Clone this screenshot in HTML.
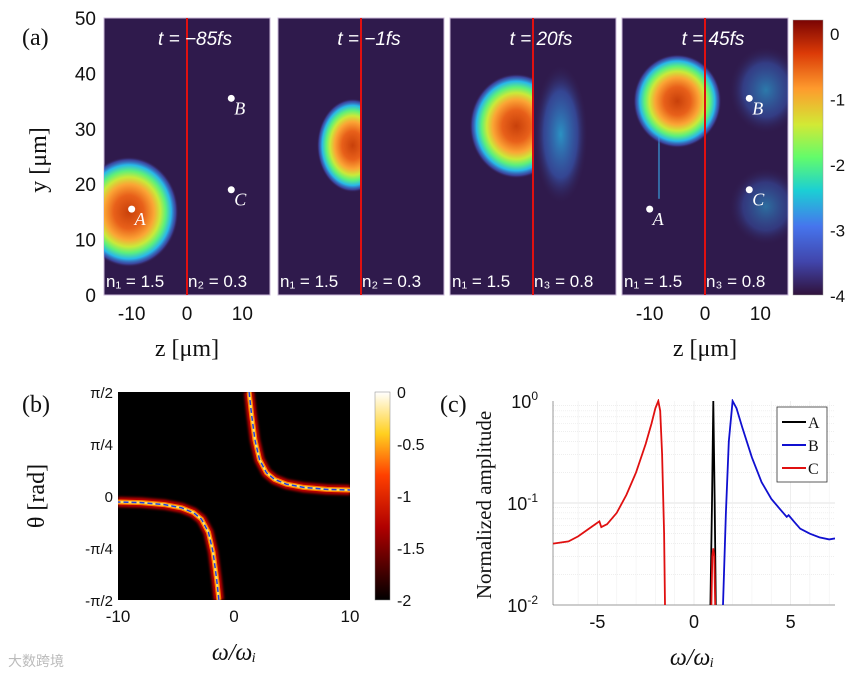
<!DOCTYPE html>
<html><head><meta charset="utf-8">
<style>
html,body{margin:0;padding:0;background:#fff;}
svg{display:block;}
.t{font-family:"Liberation Sans",sans-serif;fill:#111;}
.s{font-family:"Liberation Serif",serif;fill:#111;}
</style></head>
<body>
<svg id="fig" width="865" height="677" viewBox="0 0 865 677" xmlns="http://www.w3.org/2000/svg">
<defs>
  <linearGradient id="turbo" x1="0" y1="1" x2="0" y2="0">
    <stop offset="0" stop-color="#30123b"/><stop offset="0.12" stop-color="#4145ab"/>
    <stop offset="0.25" stop-color="#4675ed"/><stop offset="0.38" stop-color="#1bcfd4"/>
    <stop offset="0.5" stop-color="#62fc6b"/><stop offset="0.62" stop-color="#d2e935"/>
    <stop offset="0.75" stop-color="#fe9b2d"/><stop offset="0.88" stop-color="#db3a07"/>
    <stop offset="1" stop-color="#7a0403"/>
  </linearGradient>
  <linearGradient id="hot" x1="0" y1="1" x2="0" y2="0">
    <stop offset="0" stop-color="#000"/><stop offset="0.35" stop-color="#b00000"/>
    <stop offset="0.6" stop-color="#ff4000"/><stop offset="0.8" stop-color="#ffd020"/>
    <stop offset="1" stop-color="#fff"/>
  </linearGradient>
  <radialGradient id="blob">
    <stop offset="0" stop-color="#c8400a"/><stop offset="0.3" stop-color="#e8601a"/>
    <stop offset="0.5" stop-color="#fba535"/><stop offset="0.63" stop-color="#c9ea3a"/>
    <stop offset="0.74" stop-color="#5ef07a"/><stop offset="0.85" stop-color="#28b8ea"/>
    <stop offset="0.94" stop-color="#4460d0" stop-opacity="0.6"/>
    <stop offset="1" stop-color="#30123b" stop-opacity="0"/>
  </radialGradient>
  <radialGradient id="faint">
    <stop offset="0" stop-color="#2ab0e0" stop-opacity="0.8"/>
    <stop offset="0.6" stop-color="#3a70d8" stop-opacity="0.5"/>
    <stop offset="1" stop-color="#30123b" stop-opacity="0"/>
  </radialGradient>
  <filter id="glow"><feGaussianBlur stdDeviation="1.2"/></filter>
</defs>
<g id="pa"></g>
<g id="pb"></g>
<g id="pc"></g>
</svg>
<script>
const NS="http://www.w3.org/2000/svg";
function E(p,tag,at,txt){const e=document.createElementNS(NS,tag);for(const k in at)e.setAttribute(k,at[k]);if(txt!==undefined)e.textContent=txt;p.appendChild(e);return e;}

/* ---------- Panel (a) data ---------- */
const aTimes=["t = −85fs","t = −1fs","t = 20fs","t = 45fs"];
const aMedia=[["n₁ = 1.5","n₂ = 0.3"],["n₁ = 1.5","n₂ = 0.3"],["n₁ = 1.5","n₃ = 0.8"],["n₁ = 1.5","n₃ = 0.8"]];
const aBlobZ=[-10.5,-1.5,-3,-5];
const aBlobY=[15,27,30.5,35];
const aBlobRz=[9,6.5,8.5,8];
const aBlobRy=[10,8.5,9.5,8.5];
const aClip=[false,true,true,false];
const yTicksA=[0,10,20,30,40,50];
const zTicksA=[-10,0,10];
const cbTicksA=[0,-1,-2,-3,-4];
const ptsLabel=["A","B","C"];
const ptsZ=[-10,8,8];
const ptsY=[15.5,35.5,19];

const pa=document.getElementById('pa');
const panX=[104,278,450,622], panW=166, pTop=18, pBot=295;
const zs=z=>panW*(z+15)/30, ys=y=>pBot-(pBot-pTop)*y/50;
E(pa,'text',{x:22,y:45,class:'s','font-size':24,},'(a)');
for(let i=0;i<4;i++){
  const g=E(pa,'g',{transform:`translate(${panX[i]},0)`,});
  const cid='cl'+i;
  const cp=E(g,'clipPath',{id:cid});E(cp,'rect',{x:0,y:pTop,width:panW,height:pBot-pTop});
  E(g,'rect',{x:0,y:pTop,width:panW,height:pBot-pTop,fill:'#2f1a4c',stroke:'#cbb9d8','stroke-width':1});
  const cg=E(g,'g',{'clip-path':`url(#${cid})`});
  if(i===2){
    E(cg,'ellipse',{cx:zs(5),cy:ys(29),rx:28,ry:72,fill:'url(#faint)'});
  }
  if(i===3){
    E(cg,'ellipse',{cx:zs(11),cy:ys(37),rx:38,ry:45,fill:'url(#faint)',opacity:0.8});
    E(cg,'ellipse',{cx:zs(11),cy:ys(16),rx:38,ry:40,fill:'url(#faint)',opacity:0.7});
    E(cg,'rect',{x:zs(-8.5),y:ys(30),width:2,height:70,fill:'#3aa0e0',opacity:0.6});
  }
  let bg=cg;
  if(aClip[i]){const c2=E(g,'clipPath',{id:cid+'b'});E(c2,'rect',{x:0,y:pTop,width:zs(0),height:pBot-pTop});bg=E(cg,'g',{'clip-path':`url(#${cid}b)`});}
  const b=E(bg,'ellipse',{cx:zs(aBlobZ[i]),cy:ys(aBlobY[i]),rx:aBlobRz[i]*panW/30,ry:aBlobRy[i]*(pBot-pTop)/50,fill:'url(#blob)'});
  
  
  E(g,'line',{x1:zs(0),x2:zs(0),y1:pTop,y2:pBot,stroke:'#e01010','stroke-width':2,});
  E(g,'text',{x:panW/2+8,y:45,'text-anchor':'middle',class:'t','font-size':19,style:'fill:#fff;font-style:italic',},aTimes[i]);
  E(g,'text',{x:2,y:287,class:'t','font-size':17,style:'fill:#fff',},aMedia[i][0]);
  E(g,'text',{x:zs(0)+1,y:287,class:'t','font-size':17,style:'fill:#fff',},aMedia[i][1]);
  if(i===0||i===3){
    for(let k=0;k<3;k++){
      E(g,'circle',{cx:zs(ptsZ[k]),cy:ys(ptsY[k]),r:3.5,fill:'#fff',});
      E(g,'text',{x:zs(ptsZ[k])+3,y:ys(ptsY[k])+16,class:'s','font-size':18,style:'fill:#fff;font-style:italic'},ptsLabel[k]);
    }
    zTicksA.forEach(z=>E(g,'text',{x:zs(z),y:320,'text-anchor':'middle',class:'t','font-size':19,},z));
    E(g,'text',{x:panW/2,y:356,'text-anchor':'middle',class:'s','font-size':24,},'z [μm]');
  }
}
yTicksA.forEach(y=>E(pa,'text',{x:96,y:ys(y)+7,'text-anchor':'end',class:'t','font-size':19,},y));
E(pa,'text',{x:0,y:0,transform:'translate(46,160) rotate(-90)','text-anchor':'middle',class:'s','font-size':24,},'y [μm]');
E(pa,'rect',{x:793,y:20,width:30,height:275,fill:'url(#turbo)',stroke:'#999','stroke-width':0.5,});
const cbA=v=>295-275*(v+4)/4.2;
cbTicksA.forEach(v=>E(pa,'text',{x:830,y:cbA(v)+7,class:'t','font-size':17,},v));

/* ---------- Panel (b) data ---------- */
const bOmega=[1.3,1.5,1.8,2.2,2.8,3.5,4.5,6,8,10];
const bTheta=[1.57,1.25,0.85,0.55,0.35,0.25,0.18,0.13,0.1,0.09];
const bXTicks=[-10,0,10];
const bYTicks=["π/2","π/4","0","-π/4","-π/2"];
const bCbTicks=[0,-0.5,-1,-1.5,-2];
const pb=document.getElementById('pb');
const bx=w=>118+232*(w+10)/20, by=t=>496-104*t/1.5708;
E(pb,'text',{x:22,y:412,class:'s','font-size':24,},'(b)');
E(pb,'rect',{x:118,y:392,width:232,height:208,fill:'#000',});
const cpb=E(pb,'clipPath',{id:'cpb'});E(cpb,'rect',{x:118,y:392,width:232,height:208});
const gb=E(pb,'g',{'clip-path':'url(#cpb)'});
[1,-1].forEach((s,si)=>{
  const d=bOmega.map((w,i)=>(i?'L':'M')+bx(s*w).toFixed(1)+','+by(s*bTheta[i]).toFixed(1)).join(' ');
  E(gb,'path',{d,fill:'none',stroke:'#c00000','stroke-width':10,filter:'url(#glow)'});
  E(gb,'path',{d,fill:'none',stroke:'#ff8000','stroke-width':5});
  E(gb,'path',{d,fill:'none',stroke:'#ffe060','stroke-width':2.5});
  const dl=E(gb,'path',{d,fill:'none',stroke:'#2040e0','stroke-width':1.5,'stroke-dasharray':'5 3'});
  
  
});
bXTicks.forEach(w=>E(pb,'text',{x:bx(w),y:622,'text-anchor':'middle',class:'t','font-size':17,},w));
bYTicks.forEach((t,i)=>E(pb,'text',{x:113,y:392+i*52+6,'text-anchor':'end',class:'t','font-size':15,},t));
E(pb,'text',{x:234,y:660,'text-anchor':'middle',class:'s','font-size':24,style:'font-style:italic',},'ω/ωᵢ');
E(pb,'text',{x:0,y:0,transform:'translate(44,496) rotate(-90)','text-anchor':'middle',class:'s','font-size':24,},'θ [rad]');
E(pb,'rect',{x:375,y:392,width:15,height:208,fill:'url(#hot)',stroke:'#888','stroke-width':0.5,});
bCbTicks.forEach((v,i)=>E(pb,'text',{x:397,y:392+i*52+6,class:'t','font-size':16,},v));

/* ---------- Panel (c) data ---------- */
const cXTicks=[-5,0,5];
const cYTicks=[0,-1,-2];
const seriesNames=["A","B","C"];
const aW=[0.85,0.93,1.0,1.07,1.13];
const aAmp=[0.01,0.1,1.0,0.1,0.01];
const bW=[1.5,1.65,1.8,2.0,2.2,2.5,3.0,3.5,4.0,4.5,4.8,4.9,5.2,5.5,6.0,6.5,7.0,7.3];
const bAmp=[0.01,0.08,0.4,1.0,0.85,0.55,0.28,0.16,0.11,0.085,0.073,0.076,0.065,0.056,0.05,0.046,0.044,0.045];
const cW=[-7.3,-6.5,-6,-5.5,-5,-4.9,-4.8,-4.5,-4,-3.5,-3,-2.5,-2.2,-2.0,-1.85,-1.75,-1.65,-1.55,-1.5];
const cAmp=[0.04,0.042,0.047,0.055,0.064,0.066,0.058,0.062,0.08,0.12,0.2,0.38,0.6,0.85,1.0,0.8,0.3,0.05,0.01];
const c2W=[0.9,0.95,1.0,1.05,1.1];
const c2Amp=[0.01,0.03,0.036,0.03,0.01];
const pc=document.getElementById('pc');
const cx0=553,cx1=835,cy0=401,cy1=605;
const cx=w=>cx0+(cx1-cx0)*(w+7.3)/14.6, cy=a=>cy1-(cy1-cy0)*(Math.log10(Math.max(a,0.01))+2)/2;
E(pc,'text',{x:440,y:412,class:'s','font-size':24,},'(c)');
const grid=E(pc,'g',{});
for(let dec=-2;dec<0;dec++)for(let m=1;m<=9;m++){const y=cy(m*Math.pow(10,dec));E(grid,'line',{x1:cx0,x2:cx1,y1:y,y2:y,stroke:'#e3e3e3','stroke-width':m===1?1:0.6,'stroke-dasharray':m===1?'':'1 1'});}
for(let w=-6;w<=7;w++){E(grid,'line',{x1:cx(w),x2:cx(w),y1:cy0,y2:cy1,stroke:w%5===0?'#e3e3e3':'#f0f0f0','stroke-width':0.6});}
E(pc,'line',{x1:cx0,x2:cx0,y1:cy0,y2:cy1,stroke:'#555','stroke-width':0.6});
E(pc,'line',{x1:cx0,x2:cx1,y1:cy1,y2:cy1,stroke:'#555','stroke-width':0.6});
const cpc=E(pc,'clipPath',{id:'cpc'});E(cpc,'rect',{x:cx0,y:cy0-2,width:cx1-cx0,height:cy1-cy0+2});
const gc=E(pc,'g',{'clip-path':'url(#cpc)'});
function line(W,A,col,name){const d=W.map((w,i)=>(i?'L':'M')+cx(w).toFixed(1)+','+cy(A[i]).toFixed(1)).join(' ');const p=E(gc,'path',{d,fill:'none',stroke:col,'stroke-width':1.8});}
line(cW,cAmp,'#e01010','series-C');
line(bW,bAmp,'#1010d0','series-B');
line(aW,aAmp,'#000','series-A');
line(c2W,c2Amp,'#e01010','series-C-peak');
cXTicks.forEach(w=>E(pc,'text',{x:cx(w),y:628,'text-anchor':'middle',class:'t','font-size':18,},w));
cYTicks.forEach(p=>{const t=E(pc,'text',{x:538,y:cy(Math.pow(10,p))+7,'text-anchor':'end',class:'t','font-size':18,},'10');E(t,'tspan',{dy:-8,'font-size':12},p);});
E(pc,'text',{x:692,y:665,'text-anchor':'middle',class:'s','font-size':24,style:'font-style:italic',},'ω/ωᵢ');
E(pc,'text',{x:0,y:0,transform:'translate(491,505) rotate(-90)','text-anchor':'middle',class:'s','font-size':21,},'Normalized amplitude');
const lg=E(pc,'g',{});
E(lg,'rect',{x:777,y:407,width:50,height:75,fill:'#fff',stroke:'#333','stroke-width':0.8});
const lgc=['#000','#1010d0','#e01010'];
seriesNames.forEach((n,i)=>{const y=422+i*23;E(lg,'line',{x1:782,x2:806,y1:y,y2:y,stroke:lgc[i],'stroke-width':2});E(lg,'text',{x:808,y:y+6,class:'s','font-size':16,},n);});
E(pc,'text',{x:8,y:666,class:'t','font-size':14,style:'fill:#bbb',},'大数跨境');
</script>
</body></html>
